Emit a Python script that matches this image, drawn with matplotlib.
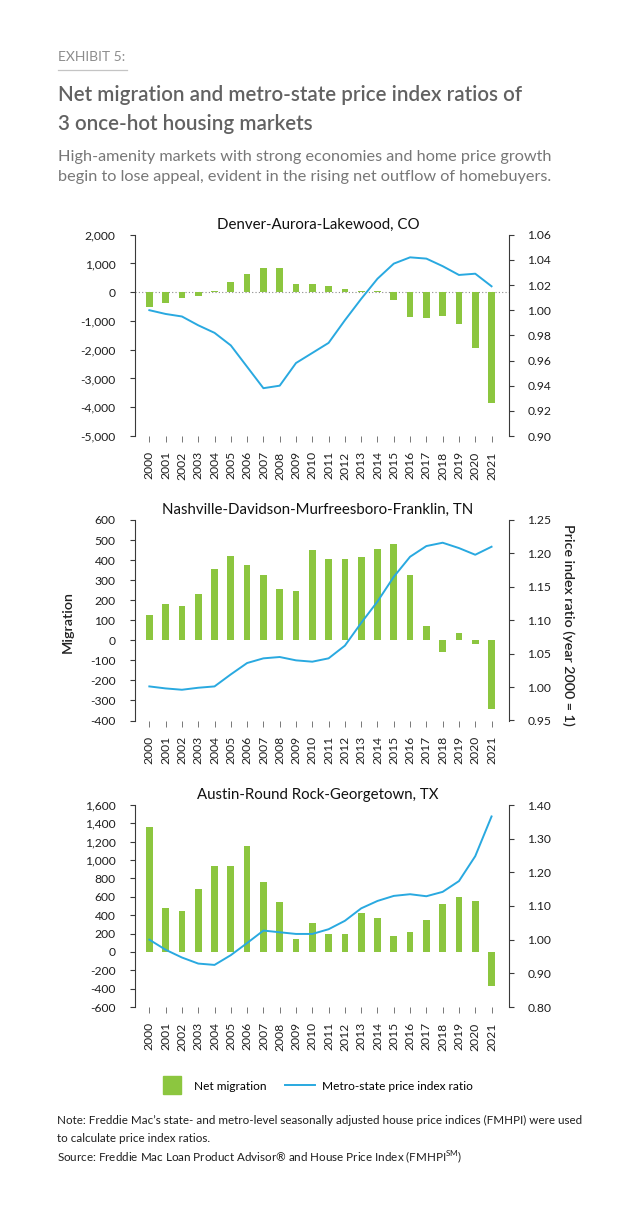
import matplotlib
matplotlib.use("Agg")
import matplotlib.pyplot as plt
from matplotlib.lines import Line2D
from matplotlib.ticker import FuncFormatter, MultipleLocator

plt.rcParams['font.family'] = ['Lato', 'DejaVu Sans']
plt.rcParams['mathtext.fontset'] = 'custom'
plt.rcParams['mathtext.rm'] = 'Lato'

# данные
years = list(range(2000, 2022))

denver_migration = [-510, -370, -185, -140, 25, 370, 650, 850, 825, 300, 280, 230, 128, 45, 45,
                    -255, -850, -880, -825, -1115, -1925, -3845]
denver_ratio = [1.000, 0.997, 0.995, 0.988, 0.982, 0.972, 0.955, 0.938, 0.940, 0.958, 0.966,
                0.974, 0.992, 1.009, 1.025, 1.037, 1.042, 1.041, 1.035, 1.028, 1.029, 1.019]

nashville_migration = [124, 182, 170, 233, 357, 418, 377, 324, 256, 245, 448, 405, 405, 415,
                       455, 479, 324, 69, -58, 38, -20, -345]
nashville_ratio = [1.001, 0.998, 0.996, 0.999, 1.001, 1.019, 1.036, 1.043, 1.045, 1.040, 1.038,
                   1.043, 1.062, 1.096, 1.128, 1.165, 1.195, 1.211, 1.216, 1.208, 1.198, 1.210]

austin_migration = [1365, 482, 446, 687, 940, 940, 1156, 763, 543, 139, 312, 193, 200, 424,
                    367, 168, 219, 345, 525, 601, 554, -366]
austin_ratio = [1.000, 0.970, 0.947, 0.929, 0.925, 0.954, 0.990, 1.027, 1.022, 1.017, 1.017,
                1.031, 1.056, 1.093, 1.115, 1.130, 1.135, 1.129, 1.142, 1.174, 1.248, 1.366]

titles = ["Denver-Aurora-Lakewood, CO",
          "Nashville-Davidson-Murfreesboro-Franklin, TN",
          "Austin-Round Rock-Georgetown, TX"]

GREEN = '#8cc63f'
BLUE = '#29a9e0'
TICK = '#1e1e1e'
SPINE = '#3a3a3a'

W, H = 624, 1224


def fx(px):
    return px / W


def fy(py):
    return 1 - py / H


fig = plt.figure(figsize=(W / 100, H / 100), dpi=100)

# заголовки
fig.text(fx(58), fy(57), "EXHIBIT 5:", fontsize=10, color='#8c8c8c', va='center')
fig.add_artist(Line2D([fx(58), fx(127)], [fy(70), fy(70)], color='#c4c4c4', lw=0.9))
fig.text(fx(58), fy(101), "Net migration and metro-state price index ratios of",
         fontsize=14.8, color='#626262', weight='semibold', va='baseline')
fig.text(fx(58), fy(130.5), "3 once-hot housing markets",
         fontsize=14.8, color='#626262', weight='semibold', va='baseline')
fig.text(fx(58), fy(160.5), "High-amenity markets with strong economies and home price growth",
         fontsize=11.7, color='#777777', va='baseline')
fig.text(fx(58), fy(181.5), "begin to lose appeal, evident in the rising net outflow of homebuyers.",
         fontsize=11.7, color='#777777', va='baseline')

panels = [
    (denver_migration, denver_ratio, (234.7, 436), (-5000, 2000, 1000), (0.90, 1.06, 0.02)),
    (nashville_migration, nashville_ratio, (520, 720.5), (-400, 600, 100), (0.95, 1.25, 0.05)),
    (austin_migration, austin_ratio, (805, 1007), (-600, 1600, 200), (0.80, 1.40, 0.10)),
]

x = list(range(len(years)))
left_px, right_px = 135, 509.3

for i, (mig, ratio, (top, bottom), (lo, hi, step), (rlo, rhi, rstep)) in enumerate(panels):
    ax = fig.add_axes([fx(left_px), fy(bottom), fx(right_px - left_px), (bottom - top) / H])
    ax.bar(x, mig, width=0.41, color=GREEN, zorder=2)
    if i == 0:
        ax.axhline(0, color='#8a8a8a', lw=0.8, ls=(0, (1, 2)), zorder=1)
    ax.set_xlim(-0.88, 22.09)
    ax.set_ylim(lo, hi)
    ax.yaxis.set_major_locator(MultipleLocator(step))
    ax.yaxis.set_major_formatter(FuncFormatter(lambda v, p: f"{v:,.0f}"))
    ax.set_xticks(x)
    ax.set_xticklabels([str(y) for y in years], rotation=90, fontsize=8.7, color=TICK)
    ax.tick_params(axis='x', length=4, width=0.7, color='#777777', pad=7)
    ax.tick_params(axis='y', length=3.6, width=0.8, color=SPINE, pad=10.5, labelsize=8.7,
                   labelcolor=TICK)
    for s in ['top', 'bottom', 'right']:
        ax.spines[s].set_visible(False)
    ax.spines['left'].set_color(SPINE)
    ax.spines['left'].set_linewidth(0.8)

    ax2 = ax.twinx()
    ax2.plot(x, ratio, color=BLUE, lw=1.4, zorder=3)
    ax2.set_ylim(rlo, rhi)
    ax2.yaxis.set_major_locator(MultipleLocator(rstep))
    ax2.yaxis.set_major_formatter(FuncFormatter(lambda v, p: f"{v:.2f}"))
    ax2.tick_params(axis='y', length=3.6, width=0.8, color=SPINE, pad=9.4, labelsize=8.7,
                    labelcolor=TICK)
    for s in ['top', 'bottom', 'left']:
        ax2.spines[s].set_visible(False)
    ax2.spines['right'].set_color(SPINE)
    ax2.spines['right'].set_linewidth(0.8)

    fig.text(fx(318), fy(top - 10), titles[i], fontsize=10.8, color='#111111',
             ha='center', va='center')

# подписи осей
fig.text(fx(68), fy(622), "Migration", rotation=90, fontsize=10.3, weight='semibold',
         color='#222222', ha='center', va='center')
fig.text(fx(568), fy(625), "Price index ratio (year 2000 = 1)", rotation=270, fontsize=10.3,
         weight='semibold', color='#222222', ha='center', va='center')

# легенда
handles = [Line2D([], [], marker='s', markersize=12.5, color=GREEN, linestyle='none'),
           Line2D([], [], color=BLUE, lw=1.4)]
fig.legend(handles, ["Net migration", "Metro-state price index ratio"], ncol=2,
           loc='center', bbox_to_anchor=(fx(315), fy(1086)), frameon=False, fontsize=8.6,
           handlelength=2.5, columnspacing=1.6, handletextpad=0.6)

# примечание
fig.text(fx(57), fy(1120), "Note: Freddie Mac’s state- and metro-level seasonally adjusted house "
         "price indices (FMHPI) were used", fontsize=8.4, color='#1e1e1e', va='center')
fig.text(fx(57), fy(1138), "to calculate price index ratios.", fontsize=8.4, color='#1e1e1e',
         va='center')
fig.text(fx(57), fy(1158), r"Source: Freddie Mac Loan Product Advisor® and House Price Index "
         r"(FMHPI$^{\mathrm{SM}}$)", fontsize=8.4, color='#1e1e1e', va='center')

fig.savefig("out.png", dpi=100)
